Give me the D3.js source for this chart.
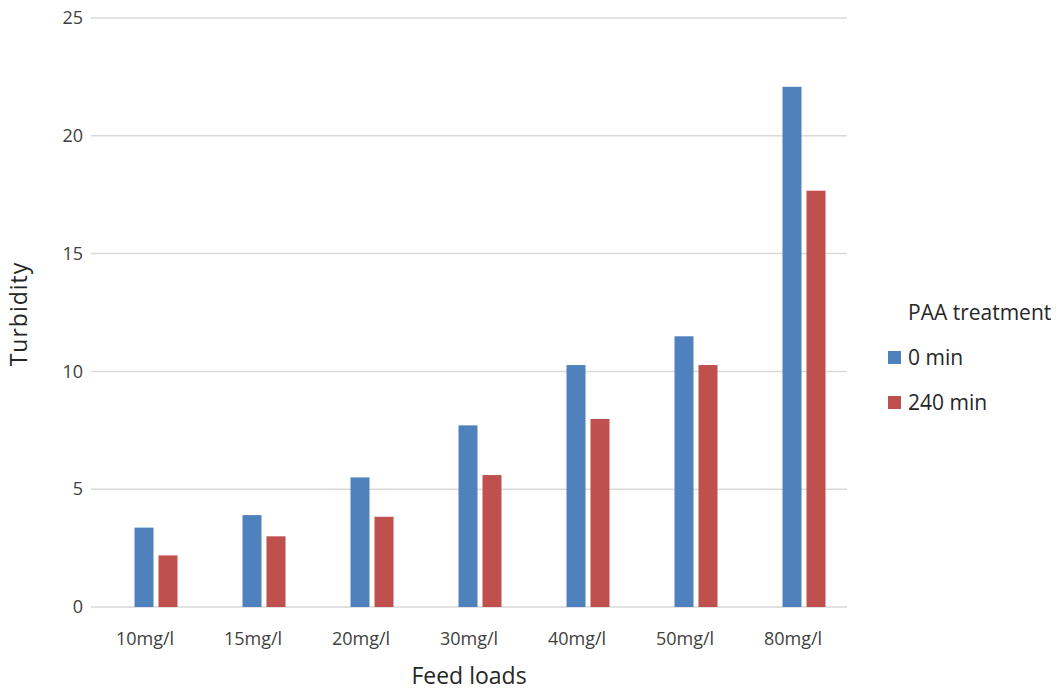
<!DOCTYPE html>
<html>
<head>
<meta charset="utf-8">
<script src="https://cdn.jsdelivr.net/npm/d3@7"></script>
<style>
  html, body { margin: 0; padding: 0; background: #fff; }
  svg text { font-family: "Open Sans", "Noto Sans", sans-serif; }
</style>
</head>
<body>
<svg id="chart" width="1060" height="692"></svg>
<script>
// Turbidity by feed load, before and after PAA treatment
const categories = ["10mg/l", "15mg/l", "20mg/l", "30mg/l", "40mg/l", "50mg/l", "80mg/l"];
const seriesNames = ["0 min", "240 min"];
const values0min = [3.37, 3.9, 5.5, 7.71, 10.27, 11.49, 22.08];
const values240min = [2.19, 3.0, 3.83, 5.6, 7.98, 10.27, 17.67];
const yTicks = [0, 5, 10, 15, 20, 25];
const colors = ["#4F81BD", "#C0504D"];

const svg = d3.select("#chart");
const plot = { left: 91, right: 847, top: 18, bottom: 607 };

const x = d3.scaleBand().domain(categories).range([plot.left, plot.right]).padding(0);
// three slots per group; the first slot is left empty
const xSub = d3.scaleBand()
  .domain(["empty"].concat(seriesNames))
  .range([-34.5, 32.5])
  .paddingInner(5 / 24);
const y = d3.scaleLinear().domain([0, 25]).range([plot.bottom, plot.top]);

// gridlines
svg.append("g")
  .selectAll("line")
  .data(yTicks)
  .join("line")
  .attr("x1", plot.left).attr("x2", plot.right)
  .attr("y1", d => y(d)).attr("y2", d => y(d))
  .attr("stroke", "#D9D9D9").attr("stroke-width", 1.5);

// y axis labels
const yAxis = d3.axisLeft(y).tickValues(yTicks).tickSize(0).tickPadding(8);
svg.append("g")
  .attr("transform", `translate(${plot.left},0)`)
  .call(yAxis)
  .call(g => g.select(".domain").remove())
  .selectAll("text")
  .attr("font-size", 18)
  .attr("fill", "#404040")
  .style("font-family", '"Open Sans", sans-serif');

// x axis labels
const xAxis = d3.axisBottom(x).tickSize(0).tickPadding(25);
svg.append("g")
  .attr("transform", `translate(0,${plot.bottom})`)
  .call(xAxis)
  .call(g => g.select(".domain").remove())
  .selectAll("text")
  .attr("font-size", 18)
  .attr("fill", "#404040")
  .style("font-family", '"Open Sans", sans-serif');

// bars
const rows = categories.map((c, i) => ({ cat: c, vals: [values0min[i], values240min[i]] }));
const groups = svg.append("g").selectAll("g")
  .data(rows)
  .join("g")
  .attr("transform", d => `translate(${x(d.cat) + x.bandwidth() / 2},0)`);

groups.selectAll("rect")
  .data(d => d.vals.map((v, j) => ({ name: seriesNames[j], v, j })))
  .join("rect")
  .attr("x", d => xSub(d.name))
  .attr("width", xSub.bandwidth())
  .attr("y", d => y(d.v))
  .attr("height", d => y(0) - y(d.v))
  .attr("fill", d => colors[d.j]);

// axis titles
svg.append("text")
  .attr("x", 469).attr("y", 684)
  .attr("text-anchor", "middle")
  .attr("font-size", 23)
  .attr("fill", "#262626")
  .text("Feed loads");

svg.append("text")
  .attr("transform", "translate(27,314) rotate(-90)")
  .attr("text-anchor", "middle")
  .attr("font-size", 23)
  .attr("letter-spacing", 1)
  .attr("fill", "#262626")
  .text("Turbidity");

// legend
const legend = svg.append("g");
legend.append("text")
  .attr("x", 908).attr("y", 320)
  .attr("font-size", 21)
  .attr("fill", "#262626")
  .text("PAA treatment");

const items = legend.selectAll("g.item")
  .data(seriesNames)
  .join("g")
  .attr("class", "item")
  .attr("transform", (d, i) => `translate(888,${351 + i * 45})`);
items.append("rect")
  .attr("width", 13).attr("height", 13)
  .attr("fill", (d, i) => colors[i]);
items.append("text")
  .attr("x", 20).attr("y", 14)
  .attr("font-size", 21)
  .attr("fill", "#262626")
  .text(d => d);
</script>
</body>
</html>
